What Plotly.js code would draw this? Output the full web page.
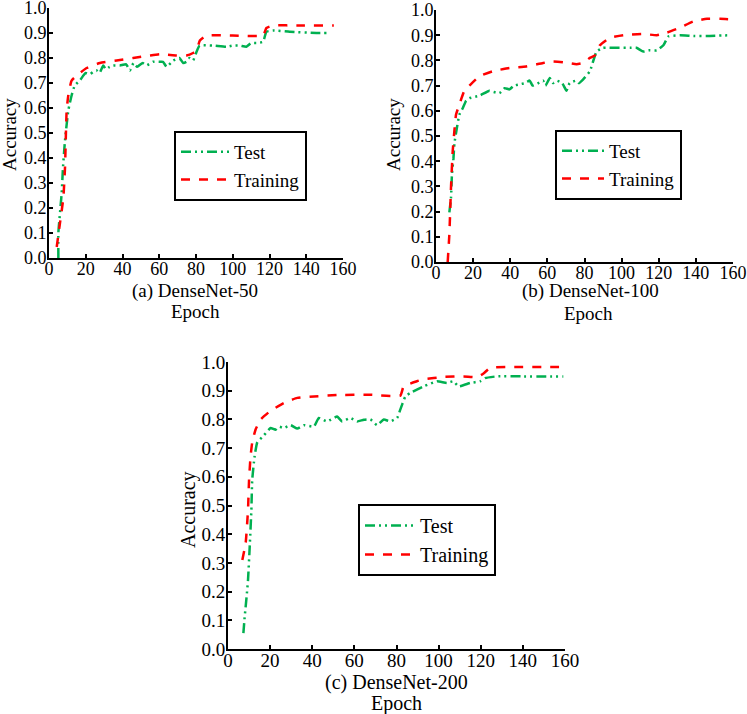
<!DOCTYPE html>
<html>
<head>
<meta charset="utf-8">
<script src="https://cdn.plot.ly/plotly-3.0.1.min.js"></script>
<style>html,body{margin:0;padding:0;background:#fff;}#chart{width:747px;height:714px;}</style>
</head>
<body>
<div id="chart"></div>
<script>
// ---- Data ----
// (a) DenseNet-50
const trainA_x = [4.2, 5.6, 7.8, 8.7, 9.6, 10.5, 12.3, 16.8, 20.5, 27.7, 36.8, 45.8, 54.9, 60.3, 69.4, 74.8, 78.4, 80.3, 82.1, 85.7, 100, 116.5, 118.3, 122, 136, 155];
const trainA_y = [0.044, 0.12, 0.24, 0.36, 0.59, 0.65, 0.71, 0.74, 0.76, 0.78, 0.79, 0.80, 0.81, 0.815, 0.81, 0.81, 0.82, 0.83, 0.87, 0.89, 0.89, 0.89, 0.92, 0.93, 0.93, 0.93];
const testA_x = [5.1, 5.1, 6.9, 7.6, 8.7, 10.5, 12.3, 14, 16.8, 18.7, 20, 22.3, 24, 25.9, 27.5, 29.5, 31, 33, 35, 38.6, 42, 44, 46, 48, 51, 53, 56.7, 60, 62, 64, 67.6, 71, 73, 74.8, 76.5, 78.4, 80.3, 82, 89, 96.6, 100, 103.8, 107.4, 110, 112.9, 116.5, 118.3, 122, 131, 145.5, 151];
const testA_y = [0.0, 0.1, 0.26, 0.36, 0.47, 0.59, 0.65, 0.69, 0.71, 0.73, 0.74, 0.735, 0.745, 0.75, 0.74, 0.77, 0.755, 0.765, 0.77, 0.77, 0.775, 0.75, 0.78, 0.765, 0.78, 0.77, 0.785, 0.785, 0.785, 0.765, 0.79, 0.80, 0.78, 0.785, 0.80, 0.79, 0.825, 0.85, 0.85, 0.845, 0.85, 0.85, 0.845, 0.86, 0.86, 0.865, 0.905, 0.91, 0.905, 0.90, 0.90];

// (b) DenseNet-100
const trainB_x = [6.3, 7.2, 8.1, 9, 9.9, 10.8, 12.6, 15.3, 18, 23.4, 30.6, 39.6, 48.6, 57.7, 63, 68.5, 75.7, 79.3, 82.9, 85.6, 88.3, 93.7, 100.9, 111.7, 119, 124.3, 131.5, 138.7, 146, 153, 160];
const trainB_y = [0.0, 0.11, 0.30, 0.44, 0.52, 0.585, 0.625, 0.68, 0.70, 0.737, 0.757, 0.77, 0.776, 0.79, 0.796, 0.793, 0.785, 0.79, 0.81, 0.82, 0.86, 0.89, 0.90, 0.905, 0.90, 0.91, 0.93, 0.955, 0.965, 0.965, 0.963];
const testB_x = [7.2, 8.1, 8.6, 9.4, 9.9, 11.2, 12.6, 14.4, 16.2, 18, 23.4, 28.8, 31, 34.2, 37, 39.6, 42, 45, 48, 50.5, 52, 54, 57.7, 59, 61.3, 63, 64.9, 68, 70.3, 72, 75.7, 77, 79.3, 82.9, 86.5, 90, 97.3, 104.5, 108, 111.7, 115, 119, 122.5, 125.2, 131.5, 138.7, 146, 158.6];
const testB_y = [0.197, 0.257, 0.35, 0.41, 0.47, 0.53, 0.585, 0.61, 0.64, 0.65, 0.66, 0.68, 0.675, 0.67, 0.69, 0.685, 0.70, 0.705, 0.71, 0.72, 0.70, 0.705, 0.72, 0.70, 0.73, 0.71, 0.72, 0.71, 0.68, 0.71, 0.72, 0.71, 0.725, 0.757, 0.835, 0.85, 0.85, 0.85, 0.85, 0.835, 0.84, 0.84, 0.86, 0.895, 0.90, 0.897, 0.897, 0.90];

// (c) DenseNet-200
const trainC_x = [6.8, 8.4, 9.5, 10, 10.7, 11.5, 13.1, 15.5, 20.2, 26.5, 32.9, 40.8, 51.8, 67.6, 81.8, 83.4, 89.7, 92.9, 102.4, 111.8, 118.2, 121.3, 124.5, 138.7, 149.8, 159.2];
const trainC_y = [0.31, 0.37, 0.485, 0.59, 0.67, 0.72, 0.765, 0.80, 0.83, 0.857, 0.875, 0.88, 0.885, 0.886, 0.883, 0.915, 0.933, 0.94, 0.948, 0.95, 0.947, 0.96, 0.98, 0.983, 0.983, 0.983];
const testC_x = [7.3, 7.9, 8.8, 9.5, 10.4, 11.1, 11.5, 12.6, 13.9, 17.1, 20.2, 22.6, 24.2, 26.5, 29.7, 32.9, 36, 40.8, 43.1, 47, 51.8, 54.2, 58.1, 61.3, 64.5, 67.6, 70.8, 74, 77, 80.3, 81.8, 84.2, 86.5, 92.9, 99.2, 103.9, 107, 109.5, 115, 119.7, 122.1, 127.6, 140.3, 159.2];
const testC_y = [0.055, 0.11, 0.18, 0.24, 0.37, 0.485, 0.59, 0.67, 0.72, 0.745, 0.77, 0.764, 0.775, 0.77, 0.78, 0.768, 0.78, 0.775, 0.805, 0.793, 0.81, 0.793, 0.805, 0.793, 0.799, 0.80, 0.78, 0.80, 0.793, 0.805, 0.834, 0.88, 0.892, 0.915, 0.933, 0.927, 0.933, 0.915, 0.927, 0.933, 0.944, 0.95, 0.95, 0.95];

const xTicks = [0, 20, 40, 60, 80, 100, 120, 140, 160];
const yTicks = [0, 0.1, 0.2, 0.3, 0.4, 0.5, 0.6, 0.7, 0.8, 0.9, 1.0];
const yTickText = ["0.0","0.1","0.2","0.3","0.4","0.5","0.6","0.7","0.8","0.9","1.0"];
const panelLabels = ["(a) DenseNet-50", "(b) DenseNet-100", "(c) DenseNet-200"];
const seriesNames = ["Test", "Training"];

// ---- Styling ----
const GREEN = "#00b050";
const RED = "#ff0000";
const FONT = "Liberation Serif, Times New Roman, serif";
const testDash = "10px,4px,2px,4px,2px,4px";

function tr(x, y, name, color, dash, ax, lg) {
  return {x: x, y: y, name: name, type: "scatter", mode: "lines",
    line: {color: color, width: 2.5, dash: dash, shape: "spline", smoothing: 0.4},
    xaxis: "x" + ax, yaxis: "y" + ax, legend: lg, hoverinfo: "skip"};
}

const data = [
  tr(testA_x, testA_y, seriesNames[0], GREEN, testDash, "", "legend"),
  tr(trainA_x, trainA_y, seriesNames[1], RED, "dash", "", "legend"),
  tr(testB_x, testB_y, seriesNames[0], GREEN, testDash, "2", "legend2"),
  tr(trainB_x, trainB_y, seriesNames[1], RED, "dash", "2", "legend2"),
  tr(testC_x, testC_y, seriesNames[0], GREEN, testDash, "3", "legend3"),
  tr(trainC_x, trainC_y, seriesNames[1], RED, "dash", "3", "legend3")
];

function xax(domain, anchor, fs, so) {
  return {domain: domain, anchor: anchor, range: [0, 160], tickmode: "array", tickvals: xTicks,
    ticks: "inside", ticklen: 4, tickwidth: 2, tickcolor: "#000", showline: true, linecolor: "#000", linewidth: 2,
    showgrid: false, zeroline: false, tickfont: {family: FONT, size: fs, color: "#000"},
    ticklabelstandoff: so, ticklabeloverflow: "allow"};
}
function yax(domain, anchor, fs) {
  return {domain: domain, anchor: anchor, range: [0, 1.0001], tickmode: "array", tickvals: yTicks, ticktext: yTickText,
    ticks: "inside", ticklen: 4, tickwidth: 2, tickcolor: "#000", showline: true, linecolor: "#000", linewidth: 2,
    showgrid: false, zeroline: false, tickfont: {family: FONT, size: fs, color: "#000"},
    ticklabelstandoff: -3, ticklabeloverflow: "allow"};
}
function leg(x, y, fs, iw) {
  return {x: x, y: y, xanchor: "left", yanchor: "top", bgcolor: "#fff", bordercolor: "#000", borderwidth: 2,
    font: {family: FONT, size: fs, color: "#000"}, itemwidth: iw, tracegroupgap: 0};
}
const W = 747, H = 714;
function ann(text, px, py, fs, rot) {
  return {text: text, x: px / W, y: 1 - py / H, xref: "paper", yref: "paper", showarrow: false,
    xanchor: "center", yanchor: "middle", textangle: rot || 0, font: {family: FONT, size: fs, color: "#000"}};
}

const layout = {
  width: W, height: H, margin: {l: 0, r: 0, t: 0, b: 0},
  paper_bgcolor: "#fff", plot_bgcolor: "#fff", showlegend: true,
  xaxis: xax([49 / W, 343 / W], "y", 18, -7),
  yaxis: yax([1 - 258 / H, 1 - 8 / H], "x", 18),
  xaxis2: xax([436 / W, 733 / W], "y2", 18, -7),
  yaxis2: yax([1 - 262 / H, 1 - 10 / H], "x2", 18),
  xaxis3: xax([228 / W, 565 / W], "y3", 19, -7),
  yaxis3: yax([1 - 649 / H, 1 - 362 / H], "x3", 19),
  legend: leg(174 / W, 1 - 131 / H, 19, 48),
  legend2: leg(555 / W, 1 - 130 / H, 19, 42),
  legend3: leg(358 / W, 1 - 504 / H, 20, 50),
  annotations: [
    ann(panelLabels[0], 195, 291, 19), ann("Epoch", 195, 311, 19), ann("Accuracy", 9, 135, 19, -90),
    ann(panelLabels[1], 590, 291, 19), ann("Epoch", 588, 313, 19), ann("Accuracy", 393, 135, 19, -90),
    ann(panelLabels[2], 397, 682, 20), ann("Epoch", 397, 703, 20), ann("Accuracy", 188, 510, 20, -90)
  ]
};

Plotly.newPlot("chart", data, layout, {staticPlot: true, displayModeBar: false});
</script>
</body>
</html>
